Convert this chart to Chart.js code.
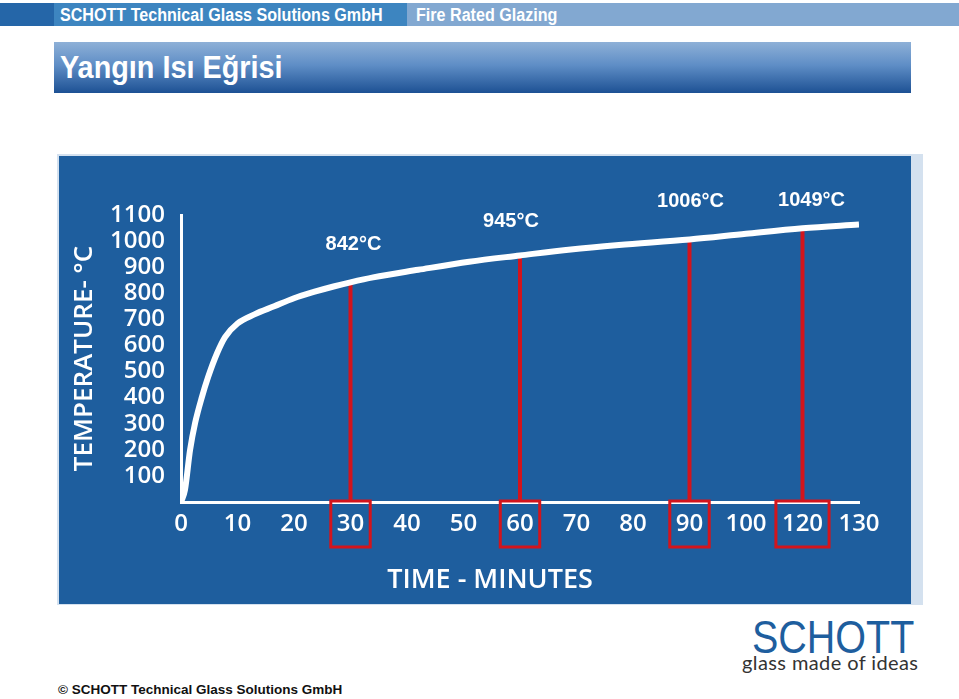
<!DOCTYPE html>
<html>
<head>
<meta charset="utf-8">
<script src="https://cdn.jsdelivr.net/npm/chart.js@4.4.1/dist/chart.umd.min.js"></script>
<style>
  body { margin: 0; width: 959px; height: 699px; background: #fff; position: relative; overflow: hidden; font-family: "Liberation Sans", Arial, sans-serif; }
  .bar { position: absolute; top: 3px; height: 23px; }
  .bar span { position: absolute; top: 2px; color: #fff; font-family: "Liberation Sans", sans-serif; font-weight: bold; font-size: 17.5px; white-space: nowrap; transform: scaleX(0.92); transform-origin: left top; }
  #titleBox { position: absolute; left: 54px; top: 42px; width: 857px; height: 51px; background: linear-gradient(#8eb0d7, #5f8ec6 45%, #1d5194); }
  #titleBox span { position: absolute; left: 6px; top: 7px; color: #fff; font-family: "Liberation Sans", sans-serif; font-weight: bold; font-size: 32px; white-space: nowrap; transform: scaleX(0.9); transform-origin: left top; }
  #frame { position: absolute; left: 57px; top: 154px; width: 866px; height: 451px; background: #d4e1ef; }
  #panel { position: absolute; left: 59px; top: 156px; width: 852px; height: 448px; background: #1e5e9e; }
  #logo { position: absolute; left: 752px; top: 609px; color: #1e5e9e; font-family: "Liberation Sans", sans-serif; font-size: 47px; white-space: nowrap; transform: scaleX(0.84); transform-origin: left top; }
  #tagline { position: absolute; left: 742px; top: 650px; color: #333; font-family: Lato, sans-serif; font-size: 20px; letter-spacing: 0.4px; white-space: nowrap; }
  #footer { position: absolute; left: 58px; top: 682px; color: #111; font-weight: bold; font-size: 13.5px; white-space: nowrap; }
</style>
</head>
<body>
<div class="bar" style="left:0;width:54px;background:#2566a8"></div>
<div class="bar" style="left:54px;width:353px;background:#3d85c0"><span style="left:6px">SCHOTT Technical Glass Solutions GmbH</span></div>
<div class="bar" style="left:407px;width:552px;background:#82a8d1"><span style="left:9px">Fire Rated Glazing</span></div>
<div id="titleBox"><span>Yangın Isı Eğrisi</span></div>
<div id="frame"></div>
<div id="panel"><canvas id="chart" width="852" height="448"></canvas></div>
<div id="logo">SCHOTT</div>
<div id="tagline">glass made of ideas</div>
<div id="footer">© SCHOTT Technical Glass Solutions GmbH</div>
<script>
// x positions are in "axis steps" (10 per tick); the axis labels skip 110
const xTickLabels = ['0', '10', '20', '30', '40', '50', '60', '70', '80', '90', '100', '120', '130'];
const curveX = [0, 0.7, 1.6, 2.5, 3.7, 4.8, 6.4, 7.8, 10, 13, 16.5, 20, 23.5, 27, 30, 34, 42, 51, 60, 69, 77.5, 90, 100, 110, 120];
const curveT = [0, 46, 199, 303, 402, 479, 571, 632, 684, 719, 750, 781, 805, 826, 842, 861, 890, 921, 945, 968, 985, 1006, 1028, 1049, 1064];
const markerX = [30, 60, 90, 110];
const markerT = [842, 945, 1006, 1049];
const markerText = ['842°C', '945°C', '1006°C', '1049°C'];
const yTitle = 'TEMPERATURE- °C';
const xTitle = 'TIME - MINUTES';

const RED = '#d3141c';
const WHITE = '#ffffff';
const tickFont = { family: '"Open Sans", sans-serif', size: 24, weight: '600' };

const markerLines = markerX.map((x, i) => ({
    data: [{ x: x, y: 0 }, { x: x, y: markerT[i] }],
    borderColor: RED,
    borderWidth: 4,
    pointRadius: 0
}));

// Annotation texts, boxes round the marked tick labels and the x caption
const markersPlugin = {
    id: 'markers',
    afterDatasetsDraw(chart, args, opts) {
        const { ctx, scales: { x, y } } = chart;
        ctx.save();
        ctx.fillStyle = WHITE;
        ctx.textAlign = 'center';
        ctx.textBaseline = 'middle';
        ctx.font = 'bold 20px "Liberation Sans", Arial, sans-serif';
        markerX.forEach((v, i) => {
            ctx.fillText(markerText[i], x.getPixelForValue(v) + opts.dx[i], y.getPixelForValue(markerT[i]) + opts.dy[i]);
        });

        ctx.font = '600 24px "Open Sans", sans-serif';
        ctx.strokeStyle = RED;
        ctx.lineWidth = 3;
        markerX.forEach(v => {
            const label = xTickLabels[Math.round(v / 10)];
            const w = ctx.measureText(label).width + 12;
            const px = x.getPixelForValue(v);
            ctx.strokeRect(px - w / 2, y.bottom - 1, w, 46);
        });

        ctx.font = '600 27px "Open Sans", sans-serif';
        ctx.fillText(xTitle, x.left + 309, y.bottom + 78);
        ctx.restore();
    }
};

new Chart(document.getElementById('chart'), {
    type: 'line',
    data: {
        datasets: [
            {
                data: curveX.map((x, i) => ({ x: x, y: curveT[i] })),
                borderColor: WHITE,
                borderWidth: 6,
                pointRadius: 0,
                cubicInterpolationMode: 'monotone'
            },
            ...markerLines
        ]
    },
    options: {
        responsive: false,
        animation: false,
        devicePixelRatio: 1,
        layout: { padding: { left: 0, right: 52, top: 59, bottom: 0 } },
        scales: {
            x: {
                type: 'linear',
                min: 0,
                max: 120,
                afterFit: s => { s.height = 102; },
                grid: { display: false, drawTicks: false },
                border: { display: true, color: WHITE, width: 3 },
                ticks: {
                    stepSize: 10,
                    padding: 8,
                    color: WHITE,
                    font: tickFont,
                    maxRotation: 0,
                    autoSkip: false,
                    callback: v => xTickLabels[Math.round(v / 10)]
                }
            },
            y: {
                min: 0,
                max: 1100,
                afterFit: s => { s.width = 122; },
                grid: { display: false, drawTicks: false },
                border: { display: true, color: WHITE, width: 3 },
                ticks: {
                    stepSize: 100,
                    padding: 16,
                    color: WHITE,
                    font: tickFont,
                    autoSkip: false,
                    callback: v => (v === 0 ? '' : v)
                },
                title: {
                    display: true,
                    text: yTitle,
                    color: WHITE,
                    font: { family: '"Open Sans", sans-serif', size: 26, weight: '600' },
                    padding: { top: 10, bottom: 0 }
                }
            }
        },
        plugins: {
            legend: { display: false },
            tooltip: { enabled: false },
            markers: { dx: [3, -9, 1, 9], dy: [-38, -34, -38, -28] }
        }
    },
    plugins: [markersPlugin]
});
</script>
</body>
</html>
